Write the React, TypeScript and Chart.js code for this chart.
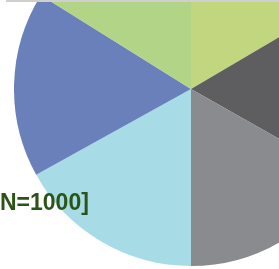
import React, { useEffect, useRef } from "react";
import { Chart, registerables } from "chart.js";

Chart.register(...registerables);

const categories = ["A", "B", "C", "D", "E", "F"];
const values = [59.5, 60, 60.5, 61, 61, 58];
const colors = ["#c2d680", "#5e5e61", "#898b8e", "#a7dbe6", "#6a80ba", "#b2d486"];
const labelText = "N=1000]";

export default function App() {
  const ref = useRef<HTMLCanvasElement>(null);
  useEffect(() => {
    document.body.style.margin = "0";
    const chart = new Chart(ref.current!, {
      type: "pie",
      data: {
        labels: categories,
        datasets: [{ data: values, backgroundColor: colors, borderWidth: 0 }],
      },
      options: {
        animation: false,
        responsive: false,
        maintainAspectRatio: false,
        layout: { padding: 0 },
        plugins: { legend: { display: false }, tooltip: { enabled: false }, title: { display: false } },
      },
    });
    return () => chart.destroy();
  }, []);
  return (
    <div style={{ position: "fixed", left: 0, top: 0, width: 279, height: 269, overflow: "hidden", background: "#fff" }}>
      <canvas ref={ref} width={354} height={354} style={{ position: "absolute", left: 14, top: -88, width: 354, height: 354 }} />
      <div style={{ position: "absolute", left: 6, top: 0, width: 273, height: 2, background: "#cfcfcf" }} />
      <div
        style={{
          position: "absolute",
          left: 0,
          top: 187,
          fontFamily: "'Liberation Sans', Arial, sans-serif",
          fontWeight: "bold",
          fontSize: 23,
          lineHeight: "30px",
          color: "#2b5517",
          whiteSpace: "nowrap",
        }}
      >
        {labelText}
      </div>
    </div>
  );
}
